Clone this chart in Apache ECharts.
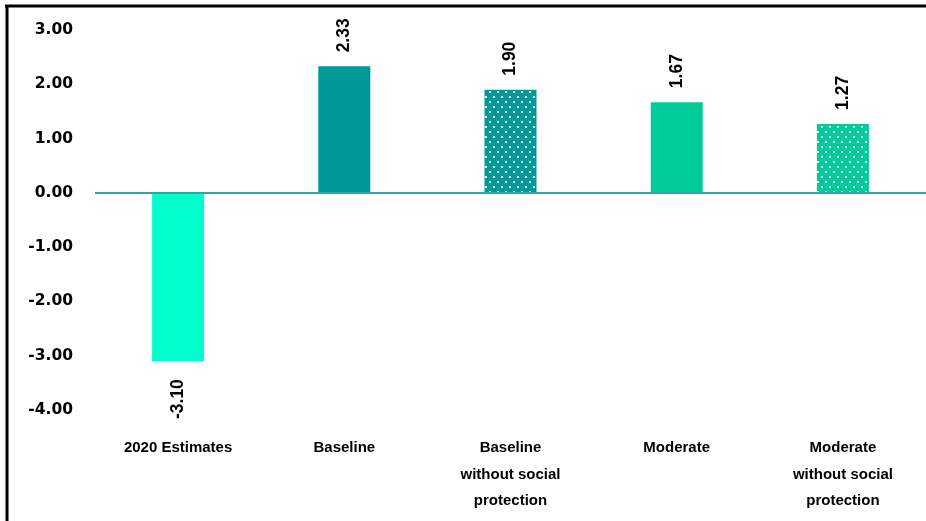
<!DOCTYPE html>
<html>
<head>
<meta charset="utf-8">
<script src="https://cdn.jsdelivr.net/npm/echarts@6/dist/echarts.min.js"></script>
<style>
html,body{margin:0;padding:0;background:#fff;}
#chart{width:926px;height:521px;}
</style>
</head>
<body>
<div id="chart"></div>
<script>
const categories = ['2020 Estimates', 'Baseline', 'Baseline\nwithout social\nprotection', 'Moderate', 'Moderate\nwithout social\nprotection'];
const values = [-3.10, 2.33, 1.90, 1.67, 1.27];
const yTicks = [-4, -3, -2, -1, 0, 1, 2, 3];

const barColors = ['#00FFCC', '#009999', '#009999', '#00CC99', '#00CC99'];
const dotted = [false, false, true, false, true];

function makePattern(color) {
  const c = document.createElement('canvas');
  c.width = 8; c.height = 10;
  const ctx = c.getContext('2d');
  ctx.fillStyle = color;
  ctx.fillRect(0, 0, 8, 10);
  ctx.fillStyle = 'rgba(255,255,255,0.95)';
  ctx.fillRect(1, 1, 2, 2);
  ctx.fillRect(5, 6, 2, 2);
  return { image: c, repeat: 'repeat' };
}

const seriesData = values.map((v, i) => ({
  value: v,
  itemStyle: { color: dotted[i] ? makePattern(barColors[i]) : barColors[i] },
  label: v >= 0
    ? { position: 'top', align: 'left', verticalAlign: 'middle', distance: 14 }
    : { position: 'bottom', align: 'right', verticalAlign: 'middle', distance: 18 }
}));

const chart = echarts.init(document.getElementById('chart'), null, { renderer: 'canvas' });
chart.setOption({
  animation: false,
  backgroundColor: '#ffffff',
  grid: { left: 95, right: -1, top: 30, bottom: 111, containLabel: false },
  xAxis: {
    type: 'category',
    data: categories,
    axisLine: { show: false, onZero: false },
    axisTick: { show: false },
    axisLabel: {
      margin: 25,
      interval: 0,
      fontFamily: 'Liberation Sans',
      fontWeight: 'bold',
      fontSize: 15,
      lineHeight: 26.5,
      color: '#000'
    }
  },
  yAxis: {
    type: 'value',
    min: -4, max: 3, interval: 1,
    axisLine: { show: false },
    axisTick: { show: false },
    splitLine: { show: false },
    axisLabel: {
      margin: 22,
      fontFamily: 'DejaVu Sans',
      fontWeight: 'bold',
      fontSize: 15.5,
      color: '#000',
      formatter: v => yTicks.includes(v) ? v.toFixed(2) : ''
    }
  },
  series: [{
    type: 'bar',
    data: seriesData,
    barWidth: 52,
    label: {
      show: true,
      rotate: 90,
      fontFamily: 'Liberation Sans',
      fontWeight: 'bold',
      fontSize: 17.5,
      color: '#000',
      formatter: p => p.value.toFixed(2)
    },
    markLine: {
      silent: true,
      symbol: ['none', 'none'],
      label: { show: false },
      lineStyle: { color: '#2BA5A5', width: 2, type: 'solid' },
      data: [{ yAxis: 0 }]
    },
    z: 2
  }],
  graphic: [
    { type: 'line', shape: { x1: 5, y1: 6, x2: 926, y2: 6 }, style: { stroke: '#000', lineWidth: 3 }, z: 10 },
    { type: 'line', shape: { x1: 7, y1: 5, x2: 7, y2: 521 }, style: { stroke: '#000', lineWidth: 3 }, z: 10 }
  ]
});
</script>
</body>
</html>
